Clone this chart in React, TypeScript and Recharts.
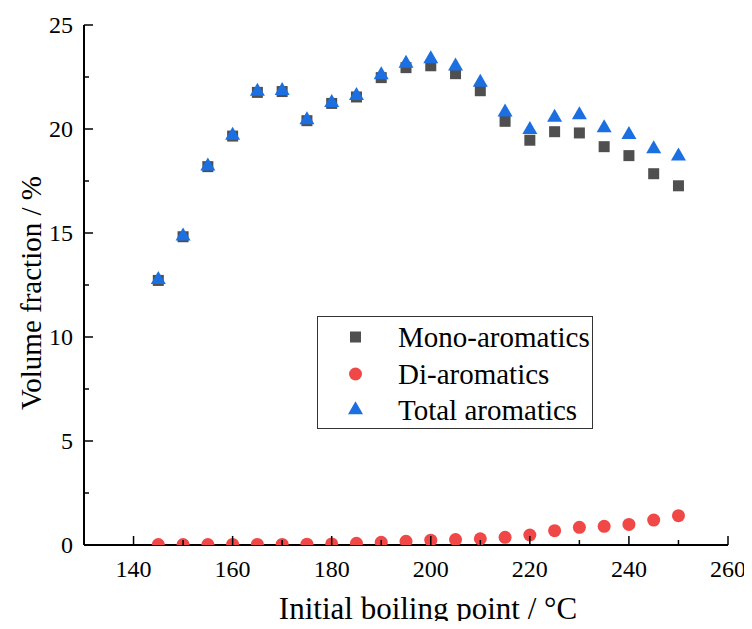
import React from "react"
import { ScatterChart, Scatter, XAxis, YAxis, Legend, Label } from "recharts"

const temps = [145, 150, 155, 160, 165, 170, 175, 180, 185, 190, 195, 200, 205, 210, 215, 220, 225, 230, 235, 240, 245, 250]
const mono = [12.72, 14.82, 18.19, 19.66, 21.76, 21.8, 20.4, 21.23, 21.54, 22.47, 22.95, 23.04, 22.66, 21.84, 20.37, 19.46, 19.87, 19.81, 19.15, 18.72, 17.85, 17.27]
const di = [0.02, 0.02, 0.02, 0.03, 0.03, 0.03, 0.04, 0.05, 0.08, 0.13, 0.18, 0.23, 0.26, 0.3, 0.37, 0.48, 0.69, 0.85, 0.9, 0.99, 1.2, 1.41]
const total = [12.75, 14.85, 18.21, 19.69, 21.8, 21.84, 20.44, 21.27, 21.6, 22.6, 23.15, 23.37, 23.02, 22.24, 20.81, 19.97, 20.56, 20.67, 20.05, 19.72, 19.04, 18.69]

const xTicks = [130, 140, 150, 160, 170, 180, 190, 200, 210, 220, 230, 240, 250, 260]
const yTicks = [0, 2.5, 5, 7.5, 10, 12.5, 15, 17.5, 20, 22.5, 25]

const GRAY = "#4f4f4f"
const RED = "#f04747"
const BLUE = "#1b6fe0"
const FONT = "'Liberation Serif', 'Times New Roman', serif"

// plot frame (used for clipping the di-aromatics dots at the baseline)
const PLOT = { left: 84, top: 25, right: 728, bottom: 545 }

const toPoints = (ys: number[]) => temps.map((t, i) => ({ x: t, y: ys[i] }))

const isMajorX = (v: number) => (v - 140) % 20 === 0
const isMajorY = (v: number) => v % 5 === 0

const BottomTick = (props: any) => {
  const { x, y, payload } = props
  const major = isMajorX(payload.value)
  return (
    <g>
      <line x1={x} x2={x} y1={y} y2={y - (major ? 9 : 5)} stroke="#000" strokeWidth={1.5} />
      {major && (
        <text x={x} y={y + 32} textAnchor="middle" fontSize={24} fontFamily={FONT} fill="#000">
          {payload.value}
        </text>
      )}
    </g>
  )
}

const TopTick = (props: any) => {
  const { x, y, payload } = props
  const major = isMajorX(payload.value)
  return <line x1={x} x2={x} y1={y} y2={y + (major ? 9 : 5)} stroke="#000" strokeWidth={1.5} />
}

const LeftTick = (props: any) => {
  const { x, y, payload } = props
  const major = isMajorY(payload.value)
  return (
    <g>
      <line x1={x} x2={x + (major ? 9 : 5)} y1={y} y2={y} stroke="#000" strokeWidth={1.5} />
      {major && (
        <text x={x - 11} y={y + 8} textAnchor="end" fontSize={24} fontFamily={FONT} fill="#000">
          {payload.value}
        </text>
      )}
    </g>
  )
}

const RightTick = (props: any) => {
  const { x, y, payload } = props
  const major = isMajorY(payload.value)
  return <line x1={x} x2={x - (major ? 9 : 5)} y1={y} y2={y} stroke="#000" strokeWidth={1.5} />
}

const Square = (props: any) => {
  const { cx, cy } = props
  return <rect x={cx - 5.5} y={cy - 5.5} width={11} height={11} fill={GRAY} />
}

const Dot = (props: any) => {
  const { cx, cy, index } = props
  const id = `di-clip-${index}`
  return (
    <g>
      <defs>
        <clipPath id={id}>
          <rect x={PLOT.left} y={PLOT.top} width={PLOT.right - PLOT.left} height={PLOT.bottom - PLOT.top} />
        </clipPath>
      </defs>
      <circle cx={cx} cy={cy} r={6.5} fill={RED} clipPath={`url(#${id})`} />
    </g>
  )
}

const Tri = (props: any) => {
  const { cx, cy } = props
  return (
    <polygon
      points={`${cx},${cy - 8.7} ${cx - 7.5},${cy + 4.3} ${cx + 7.5},${cy + 4.3}`}
      fill={BLUE}
    />
  )
}

const legendItems = [
  { name: "Mono-aromatics", kind: "square" },
  { name: "Di-aromatics", kind: "circle" },
  { name: "Total aromatics", kind: "triangle" },
]

const LegendBox = () => (
  <div
    style={{
      width: 276,
      height: 113,
      border: "1px solid #333",
      background: "#fff",
      fontFamily: FONT,
      fontSize: 29,
      boxSizing: "border-box",
      paddingTop: 2,
    }}
  >
    {legendItems.map((it) => (
      <div key={it.name} style={{ display: "flex", alignItems: "center", height: 36.5 }}>
        <svg width={80} height={30} style={{ flex: "none" }}>
          {it.kind === "square" && <rect x={32} y={9.5} width={11} height={11} fill={GRAY} />}
          {it.kind === "circle" && <circle cx={37.5} cy={15} r={6.5} fill={RED} />}
          {it.kind === "triangle" && <polygon points="37.5,6.3 30,19.3 45,19.3" fill={BLUE} />}
        </svg>
        <span style={{ lineHeight: "30px", color: "#000" }}>{it.name}</span>
      </div>
    ))}
  </div>
)

export default function App() {
  return (
    <div style={{ width: 752, height: 629, margin: -8, position: "relative", background: "#fff" }}>
      <ScatterChart width={752} height={629} margin={{ top: 25, right: 24, bottom: 0, left: 0 }}>
        <XAxis
          xAxisId="b"
          type="number"
          dataKey="x"
          domain={[130, 260]}
          ticks={xTicks}
          interval={0}
          height={84}
          tickSize={0}
          tickMargin={0}
          tick={<BottomTick />}
          axisLine={{ stroke: "#000", strokeWidth: 2 }}
          allowDataOverflow
        >
          <Label
            content={(p: any) => {
              const vb = p.viewBox
              return (
                <text x={vb.x + vb.width / 2 + 22} y={vb.y + 74} textAnchor="middle" fontSize={31} fontFamily={FONT} fill="#000">
                  Initial boiling point / °C
                </text>
              )
            }}
          />
        </XAxis>
        <XAxis
          xAxisId="t"
          orientation="top"
          type="number"
          dataKey="x"
          domain={[130, 260]}
          ticks={xTicks}
          interval={0}
          height={0}
          tickSize={0}
          tickMargin={0}
          tick={<TopTick />}
          axisLine={{ stroke: "#000", strokeWidth: 2 }}
          allowDataOverflow
        />
        <YAxis
          yAxisId="l"
          type="number"
          dataKey="y"
          domain={[0, 25]}
          ticks={yTicks}
          interval={0}
          width={84}
          tickSize={0}
          tickMargin={0}
          tick={<LeftTick />}
          axisLine={{ stroke: "#000", strokeWidth: 2 }}
          allowDataOverflow
        >
          <Label
            content={(p: any) => {
              const vb = p.viewBox
              const cx = 31
              const cy = vb.y + vb.height / 2 + 8
              return (
                <text
                  x={cx}
                  y={cy}
                  transform={`rotate(-90 ${cx} ${cy})`}
                  textAnchor="middle"
                  dominantBaseline="central"
                  fontSize={29}
                  fontFamily={FONT}
                  fill="#000"
                >
                  Volume fraction / %
                </text>
              )
            }}
          />
        </YAxis>
        <YAxis
          yAxisId="r"
          orientation="right"
          type="number"
          dataKey="y"
          domain={[0, 25]}
          ticks={yTicks}
          interval={0}
          width={0}
          tickSize={0}
          tickMargin={0}
          tick={<RightTick />}
          axisLine={{ stroke: "#000", strokeWidth: 2 }}
          allowDataOverflow
        />
        <Scatter name="Mono-aromatics" data={toPoints(mono)} xAxisId="b" yAxisId="l" shape={<Square />} isAnimationActive={false} />
        <Scatter name="Di-aromatics" data={toPoints(di)} xAxisId="b" yAxisId="l" shape={<Dot />} isAnimationActive={false} />
        <Scatter name="Total aromatics" data={toPoints(total)} xAxisId="b" yAxisId="l" shape={<Tri />} isAnimationActive={false} />
        <Legend
          layout="horizontal"
          verticalAlign="middle"
          align="center"
          content={() => <LegendBox />}
          wrapperStyle={{ position: "absolute", left: 317, top: 316, width: 276, height: 113 }}
        />
      </ScatterChart>
    </div>
  )
}
